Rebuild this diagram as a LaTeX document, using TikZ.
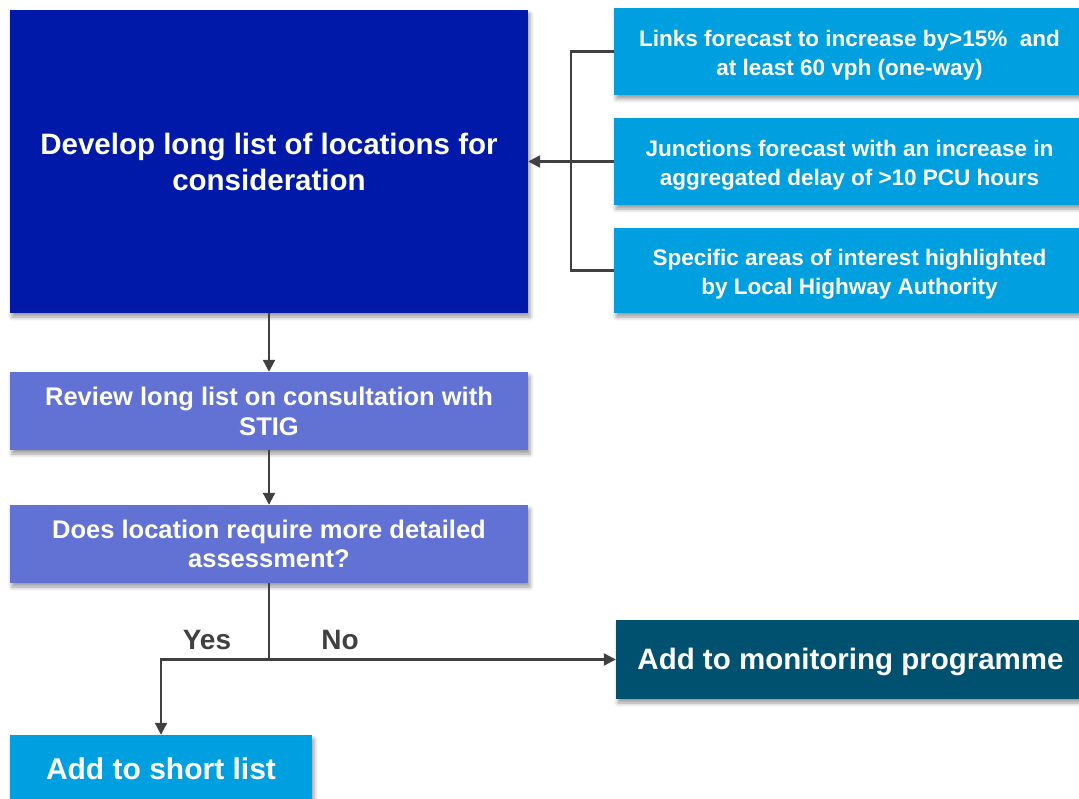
\documentclass[tikz,border=0pt]{standalone}
\usepackage{fontspec}
\setmainfont{Liberation Sans}
\usetikzlibrary{arrows.meta,shadows.blur}
\definecolor{darkblue}{HTML}{0019A8}
\definecolor{skyblue}{HTML}{009FE0}
\definecolor{lilac}{HTML}{6272D4}
\definecolor{petrol}{HTML}{00506F}
\definecolor{linegray}{HTML}{404040}
\newcommand{\topstrut}{\rule{0pt}{23pt}}
\tikzset{
  box/.style={rectangle, inner sep=0pt, text=white, align=center, font=\bfseries,
    blur shadow={shadow xshift=2pt, shadow yshift=-4pt, shadow blur radius=4pt, shadow opacity=40}},
  conn/.style={draw=linegray, line width=2.2pt},
  arr/.style={conn, -{Triangle[length=12pt,width=12pt]}},
  lbl/.style={text=linegray, font=\bfseries\fontsize{28}{32}\selectfont}
}
\begin{document}
\begin{tikzpicture}[x=1pt,y=-1pt]
\useasboundingbox (0,0) rectangle (1079,799);
\node[box, fill=darkblue, minimum width=518pt, minimum height=303pt,
  font=\bfseries\fontsize{29.5}{36}\selectfont] (big) at (269,161.5)
  {Develop long list of locations for\\consideration};
\node[box, fill=skyblue, minimum width=471pt, minimum height=87pt,
  font=\bfseries\fontsize{22.5}{29}\selectfont] (b1) at (849.5,51.5)
  {\topstrut Links forecast to increase by>15\%\ \ and\\at least 60 vph (one-way)};
\node[box, fill=skyblue, minimum width=471pt, minimum height=87pt,
  font=\bfseries\fontsize{22.5}{29}\selectfont] (b2) at (849.5,161.5)
  {\topstrut Junctions forecast with an increase in\\aggregated delay of >10 PCU hours};
\node[box, fill=skyblue, minimum width=471pt, minimum height=85pt,
  font=\bfseries\fontsize{22.5}{29}\selectfont] (b3) at (849.5,270.5)
  {\topstrut Specific areas of interest highlighted\\by Local Highway Authority};
\node[box, fill=lilac, minimum width=518pt, minimum height=78pt,
  font=\bfseries\fontsize{25.5}{30}\selectfont] (rev) at (269,411)
  {Review long list on consultation with\\STIG};
\node[box, fill=lilac, minimum width=518pt, minimum height=78pt,
  font=\bfseries\fontsize{25.5}{29}\selectfont] (does) at (269,544)
  {Does location require more detailed\\assessment?};
\node[box, fill=petrol, minimum width=469pt, minimum height=79pt,
  font=\bfseries\fontsize{29.5}{32}\selectfont] (mon) at (850.5,659.5)
  {\rule{0pt}{26pt}Add to monitoring programme};
\node[box, fill=skyblue, minimum width=302pt, minimum height=68pt,
  font=\bfseries\fontsize{30}{32}\selectfont] (short) at (161,769)
  {Add to short list};
% bracket of inputs
\coordinate (brtop) at (571,51.5);
\coordinate (brbot) at (571,270.5);
\draw[conn] (b1.west) -- (brtop) -- (brbot) -- (b3.west);
\draw[arr] (b2.west) -- (big.east);
% main flow
\draw[arr] (big.south) -- (rev.north);
\draw[arr] (rev.south) -- (does.north);
\coordinate (j) at (269,659.5);
\coordinate (yc) at (short.north |- j);
\draw[conn] (does.south) -- (j);
\draw[arr] (j) -- (mon.west);
\draw[arr] (j) -- (yc) -- (short.north);
\node[lbl] (yes) at (207,640) {Yes};
\node[lbl] (no) at (340,640) {No};
\end{tikzpicture}
\end{document}
